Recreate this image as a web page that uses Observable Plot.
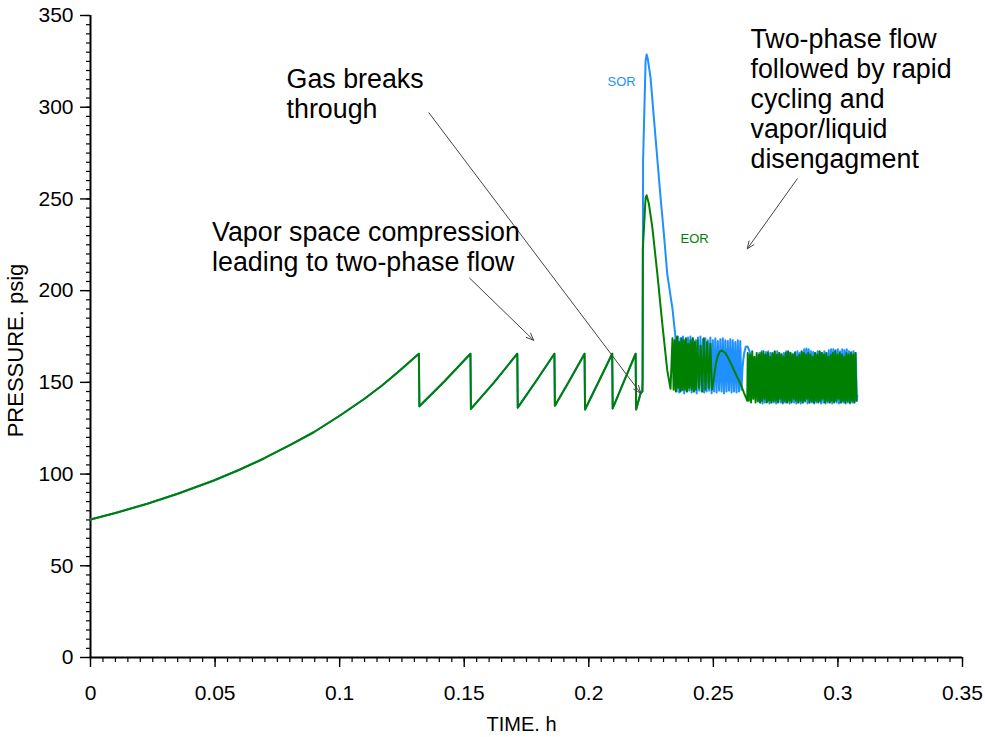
<!DOCTYPE html>
<html><head><meta charset="utf-8">
<script src="https://cdn.jsdelivr.net/npm/d3@7"></script>
<script src="https://cdn.jsdelivr.net/npm/@observablehq/plot@0.6"></script>
<style>body{margin:0;background:#fff;} svg{display:block;}</style>
</head><body><div id="chart"></div>
<script>
// ---- axis ticks ----
const xTicks = [0, 0.05, 0.1, 0.15, 0.2, 0.25, 0.3, 0.35];
const xTickLabels = ["0", "0.05", "0.1", "0.15", "0.2", "0.25", "0.3", "0.35"];
const yTicks = [0, 50, 100, 150, 200, 250, 300, 350];
const yTickLabels = ["0", "50", "100", "150", "200", "250", "300", "350"];
const xMinor = d3.range(0, 71).map(i => +(i * 0.005).toFixed(3));
const yMinor = d3.range(0, 71).map(i => i * 5);

// ---- EOR (green) series: [time h, pressure psig] ----
const eorRise = [[0,75.2],[0.01,78.8],[0.0228,83.8],[0.035,89.3],[0.0495,96.5],[0.06,102.5],[0.0696,108.5],[0.08,115.8],[0.0896,122.8],[0.1,131.8],[0.1097,140.8],[0.117,148.3],[0.1231,155.2],[0.1318,165.6]];
const eorSaw = [[0.1320,137.0],[0.1420,150.5],[0.1525,165.6],
  [0.1527,135.5],[0.1620,150.0],[0.1713,165.6],
  [0.1715,136.2],[0.1790,151.0],[0.1862,165.6],
  [0.1864,137.2],[0.1925,151.5],[0.1983,165.6],
  [0.1985,135.2],[0.2040,150.5],[0.2094,165.6],
  [0.2096,135.8],[0.2142,150.8],[0.2188,165.6],
  [0.2190,135.2],[0.2208,144.1]];
const eorSpike = [[0.2216,145],[0.2217,223],[0.2228,250.5],[0.2232,252],[0.2241,247.5],[0.2255,234.6],[0.2275,209.4],[0.2295,182],[0.2315,156.5],[0.2328,146.5]];
const eorOscA = [[0.2336,174],[0.23405,146],[0.2345,173],[0.23495,145],[0.2354,175],[0.23585,147],[0.2363,172],[0.23675,145],
  [0.2372,174],[0.23765,146],[0.2381,173],[0.23855,146],[0.2390,174],[0.23945,145],[0.2399,171],[0.24035,147],
  [0.2408,173],[0.24125,146],[0.2417,174],[0.24215,145],[0.2426,172],[0.24305,146],[0.2436,173],[0.24425,147],
  [0.2449,170],[0.24555,145],[0.2462,174],[0.24685,146],[0.2475,172],[0.24815,147],[0.2488,171],[0.24945,146]];
const eorHump = [[0.2503,153],[0.2510,160],[0.2518,164.5],[0.2526,166.8],[0.2535,167.4],[0.2548,166],[0.2560,163.2],[0.2572,159.8],[0.2584,156.3],[0.2596,152.8],[0.2609,149.2],[0.2622,144.6],[0.2636,140]];
const eorOscB = [[0.2638,166],[0.26425,140],[0.2647,165],[0.26515,139],[0.2656,167],[0.26605,141],[0.2665,164],[0.26695,139],
  [0.2674,166],[0.26785,140],[0.2683,165],[0.26875,139],[0.2692,166],[0.26965,140],[0.2701,167],[0.27055,141],
  [0.2710,165],[0.27145,139],[0.2719,166],[0.27235,140],[0.2728,164],[0.27325,139],[0.2737,166],[0.27415,140],
  [0.2746,167],[0.27505,140],[0.2755,165],[0.27595,139],[0.2764,166],[0.27685,141],[0.2773,165],[0.27775,139],
  [0.2782,164],[0.27865,140],[0.2791,166],[0.27955,139],[0.2800,167],[0.28045,140],[0.2809,166],[0.28135,139],
  [0.2818,165],[0.28225,141],[0.2827,166],[0.28315,140],[0.2836,164],[0.28405,139],[0.2845,165],[0.28495,140],
  [0.2854,167],[0.28585,139],[0.2863,166],[0.28675,140],[0.2872,165],[0.28765,141],[0.2881,166],[0.28855,139],
  [0.2890,165],[0.28945,140],[0.2899,164],[0.29035,139],[0.2908,166],[0.29125,140],[0.2917,165],[0.29215,139],
  [0.2926,167],[0.29305,140],[0.2935,166],[0.29395,141],[0.2944,165],[0.29485,139],[0.2953,166],[0.29575,140],
  [0.2962,164],[0.29665,139],[0.2971,165],[0.29755,140],[0.2980,166],[0.29845,139],[0.2989,167],[0.29935,140],
  [0.2998,165],[0.30025,141],[0.3007,166],[0.30115,139],[0.3016,165],[0.30205,140],[0.3025,164],[0.30295,139],
  [0.3034,166],[0.30385,140],[0.3043,165],[0.30475,139],[0.3052,166],[0.30565,140],[0.3061,165],[0.30655,139],
  [0.3070,166],[0.30745,140]];

// ---- SOR (blue) series: identical to EOR before the gas breakthrough ----
const sorSpike = [[0.2214,146],[0.2216,152],[0.2218,271],[0.2228,325],[0.2232,328.8],[0.2236,327],[0.2248,316],[0.2261,294.6],[0.2275,272],[0.2288,251],[0.2302,230],[0.2315,209],[0.2336,190]];
const sorOscA = [[0.2348,174.6],[0.2353,145],[0.2358,175],[0.2363,144.5],[0.2368,174],[0.2373,145.5],[0.2378,175],[0.2383,144],
  [0.2388,173.5],[0.2393,145],[0.2398,174.5],[0.2403,145.5],[0.2408,175],[0.2413,144.5],[0.2418,174],[0.2423,145],
  [0.2428,173],[0.2433,144],[0.2438,174.5],[0.2443,145.5],[0.2448,175],[0.2453,145],[0.2458,173.5],[0.2463,144.5],
  [0.2468,174],[0.2473,145],[0.2478,173],[0.2483,145.5],[0.2488,174.5],[0.2493,144],[0.2498,173],[0.2503,145],
  [0.2508,174],[0.2513,144.5],[0.2518,172.5],[0.2523,145.5],[0.2528,173.5],[0.2533,145],[0.2538,174],[0.2543,144],
  [0.2548,173],[0.2553,145],[0.2558,172.5],[0.2563,145.5],[0.2568,173.5],[0.2573,144.5],[0.2578,173],[0.2583,145],
  [0.2588,172],[0.2593,144.5],[0.2598,173],[0.2603,145],[0.2608,172.5],[0.2613,146]];
const sorHump = [[0.2617,158],[0.2623,165.5],[0.2630,169.4],[0.2637,169.6],[0.2645,167],[0.2655,162.5],[0.2669,158.3],[0.2676,150]];
const sorOscB = [[0.2680,139.5],[0.26845,166],[0.2689,139],[0.26935,167],[0.2698,138.5],[0.27025,165.5],[0.2707,139],[0.27115,166.5],
  [0.2716,139.5],[0.27205,167],[0.2725,138.5],[0.27295,166],[0.2734,139],[0.27385,165],[0.2743,139],[0.27475,166.5],
  [0.2752,138.5],[0.27565,167],[0.2761,139.5],[0.27655,166],[0.2770,139],[0.27745,165.5],[0.2779,138.5],[0.27835,166],
  [0.2788,139],[0.27925,167],[0.2797,139],[0.28015,166.5],[0.2806,138.5],[0.28105,166],[0.2815,139.5],[0.28195,165.5],
  [0.2824,139],[0.28285,166.5],[0.2833,138.5],[0.28375,167],[0.2842,139],[0.28465,166],[0.2851,138.5],[0.28555,166.5],
  [0.2860,139],[0.28645,168],[0.2869,139.5],[0.28735,168.5],[0.2878,138.5],[0.28825,168],[0.2887,139],[0.28915,167],
  [0.2896,139],[0.29005,166.5],[0.2905,138.5],[0.29095,166],[0.2914,139],[0.29185,167],[0.2923,139.5],[0.29275,166.5],
  [0.2932,138.5],[0.29365,166],[0.2941,139],[0.29455,167],[0.2950,138.5],[0.29545,166],[0.2959,139],[0.29635,167.5],
  [0.2968,139],[0.29725,168],[0.2977,138.5],[0.29815,168],[0.2986,139.5],[0.29905,167.5],[0.2995,139],[0.29995,168],
  [0.3004,138.5],[0.30085,167],[0.3013,139],[0.30175,168],[0.3022,139],[0.30265,167.5],[0.3031,138.5],[0.30355,168],
  [0.3040,139],[0.30445,167],[0.3049,138.5],[0.30535,166.5],[0.3058,139],[0.30625,167],[0.3067,139],[0.30715,166],
  [0.3076,140],[0.3078,143]];

// ---- annotations (data coordinates) ----
const notes = [
  {t: 0.0787, p: 322, text: "Gas breaks\nthrough"},
  {t: 0.0488, p: 238.6, text: "Vapor space compression\nleading to two-phase flow"},
  {t: 0.2649, p: 343.7, text: "Two-phase flow\nfollowed by rapid\ncycling and\nvapor/liquid\ndisengagment"}
];
const seriesLabels = [
  {t: 0.2075, p: 316.4, text: "SOR", color: "#1E90FF"},
  {t: 0.2368, p: 231.2, text: "EOR", color: "#008000"}
];
const arrows = [
  {t1: 0.1522, p1: 206.8, t2: 0.1779, p2: 172.9},
  {t1: 0.1358, p1: 297.0, t2: 0.2208, p2: 144.1},
  {t1: 0.2837, p1: 261.0, t2: 0.2636, p2: 222.8}
];

const toRows = arr => arr.map(([t, p]) => ({t, p}));
const eor = toRows([...eorRise, ...eorSaw, ...eorSpike, ...eorOscA, ...eorHump, ...eorOscB]);
const sor = toRows([...eorRise, ...eorSaw, ...sorSpike, ...sorOscA, ...sorHump, ...sorOscB]);

const font = "'Liberation Sans', Arial, sans-serif";
const chart = Plot.plot({
  width: 985, height: 737,
  marginLeft: 90, marginRight: 23, marginTop: 15, marginBottom: 80,
  x: {domain: [0, 0.35], label: null},
  y: {domain: [0, 350], label: null},
  style: {fontFamily: font, background: "#fff", color: "#000", overflow: "visible"},
  marks: [
    Plot.axisX(xMinor, {tickSize: 5, tickFormat: () => "", label: null, strokeWidth: 1.2}),
    Plot.axisX(xTicks, {tickSize: 10, tickPadding: 18, tickFormat: d => xTickLabels[xTicks.indexOf(d)], fontSize: 21, label: null, strokeWidth: 1.4}),
    Plot.axisY(yMinor, {tickSize: 4, tickFormat: () => "", label: null, strokeWidth: 1.2}),
    Plot.axisY(yTicks, {tickSize: 10, tickPadding: 7, tickFormat: d => yTickLabels[yTicks.indexOf(d)], fontSize: 21, label: null, strokeWidth: 1.4}),
    Plot.ruleY([0], {stroke: "#000", strokeWidth: 2}),
    Plot.ruleX([0], {stroke: "#000", strokeWidth: 2}),
    Plot.line(sor, {x: "t", y: "p", stroke: "#1E90FF", strokeWidth: 2}),
    Plot.line(eor, {x: "t", y: "p", stroke: "#008000", strokeWidth: 2}),
    Plot.arrow(arrows, {x1: "t1", y1: "p1", x2: "t2", y2: "p2", stroke: "#444", strokeWidth: 1, headLength: 12, headAngle: 45}),
    Plot.text(notes, {x: "t", y: "p", text: "text", textAnchor: "start", lineAnchor: "top", fontSize: 26.8, lineHeight: 1.12, fill: "#000"}),
    Plot.text(seriesLabels, {x: "t", y: "p", text: "text", textAnchor: "start", lineAnchor: "top", fontSize: 13, fill: "color"}),
    Plot.text(["PRESSURE. psig"], {text: d => d, frameAnchor: "left", rotate: -90, dx: -75, dy: 14, fontSize: 22, textAnchor: "middle", lineAnchor: "middle", fill: "#000"}),
    Plot.text(["TIME. h"], {text: d => d, frameAnchor: "bottom", dx: -5, dy: 59, fontSize: 20, lineAnchor: "top", fill: "#000"})
  ]
});
document.getElementById("chart").appendChild(chart);
</script>
</body></html>
